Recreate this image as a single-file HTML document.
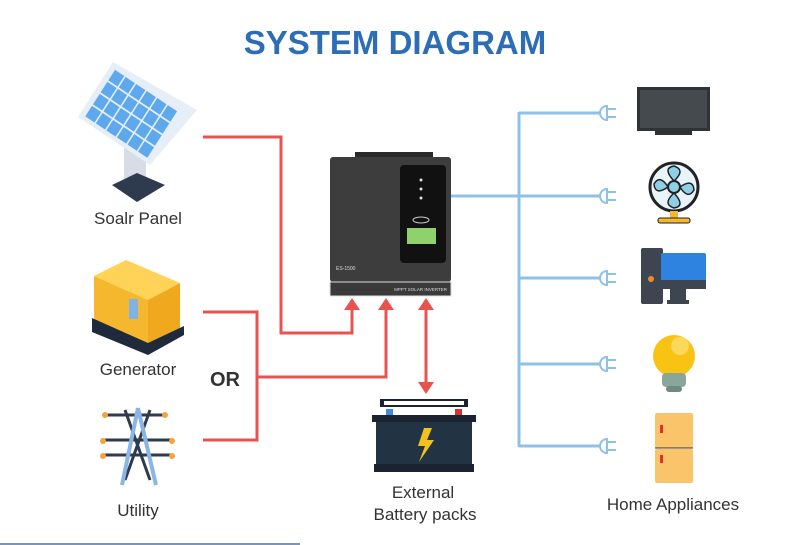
<!DOCTYPE html>
<html><head><meta charset="utf-8"><style>
body{margin:0;background:#fff;}
svg{display:block;}
text{font-family:"Liberation Sans",sans-serif;}
</style></head><body>
<svg width="800" height="545" viewBox="0 0 800 545" xmlns="http://www.w3.org/2000/svg">
<rect width="800" height="545" fill="#fff"/>
<text x="395" y="54" text-anchor="middle" font-size="33" font-weight="bold" fill="#2c6db5">SYSTEM DIAGRAM</text>

<!-- red lines -->
<g stroke="#e8524f" stroke-width="3" fill="none">
<polyline points="203,137 281,137 281,333 352,333 352,308"/>
<polyline points="203,312 257,312 257,440 203,440"/>
<polyline points="257,377 386,377 386,308"/>
<line x1="426" y1="308" x2="426" y2="386"/>
</g>
<g fill="#e8524f">
<polygon points="352,298 344,310 360,310"/>
<polygon points="386,298 378,310 394,310"/>
<polygon points="426,298 418,310 434,310"/>
<polygon points="426,394 418,382 434,382"/>
</g>
<text x="225" y="386" text-anchor="middle" font-size="20" font-weight="bold" fill="#333">OR</text>

<!-- blue lines -->
<g stroke="#8ec0e8" stroke-width="3" fill="none">
<line x1="450" y1="196" x2="519" y2="196"/>
<line x1="519" y1="112" x2="519" y2="447"/>
<line x1="519" y1="113" x2="600" y2="113"/>
<line x1="519" y1="196" x2="600" y2="196"/>
<line x1="519" y1="278" x2="600" y2="278"/>
<line x1="519" y1="364" x2="600" y2="364"/>
<line x1="519" y1="446" x2="600" y2="446"/>
</g>
<g stroke="#8ec0e8" stroke-width="2" fill="none">
<path d="M607,106 A7,7 0 0 0 607,120 Z M607,109 H616 M607,117 H616"/>
<path d="M607,189 A7,7 0 0 0 607,203 Z M607,192 H616 M607,200 H616"/>
<path d="M607,271 A7,7 0 0 0 607,285 Z M607,274 H616 M607,282 H616"/>
<path d="M607,357 A7,7 0 0 0 607,371 Z M607,360 H616 M607,368 H616"/>
<path d="M607,439 A7,7 0 0 0 607,453 Z M607,442 H616 M607,450 H616"/>
</g>

<!-- inverter -->
<rect x="355" y="152" width="78" height="8" fill="#2a2a2a"/>
<rect x="330" y="157" width="121" height="125" rx="3" fill="#3d3d3d"/>
<rect x="400" y="165" width="46" height="98" rx="4" fill="#111"/>
<rect x="407" y="228" width="29" height="16" fill="#8fd16a"/>
<ellipse cx="421" cy="220" rx="8" ry="3" fill="none" stroke="#ccc" stroke-width="1"/>
<circle cx="421" cy="180" r="1.5" fill="#ddd"/><circle cx="421" cy="189" r="1.5" fill="#ddd"/><circle cx="421" cy="198" r="1.5" fill="#ddd"/>
<text x="336" y="270" font-size="5" fill="#ddd">ES-1500</text>
<rect x="330" y="282" width="121" height="14" fill="#3a3a3a" stroke="#ddd" stroke-width="1"/>
<text x="447" y="291" text-anchor="end" font-size="4.5" fill="#ddd">MPPT SOLAR INVERTER</text>

<!-- solar panel -->
<rect x="124" y="140" width="22" height="42" fill="#d8dce6"/>
<polygon points="112,185 137,173 165,185 137,202" fill="#2e3a4d"/>
<polygon points="78,117 113,62 197,110 150,165" fill="#e6eef7"/>
<g transform="matrix(66,44,32,-50,83,117)" fill="#5ea8ee">
<rect x="0.02" y="0.03" width="0.14" height="0.21"/><rect x="0.18" y="0.03" width="0.14" height="0.21"/><rect x="0.34" y="0.03" width="0.14" height="0.21"/><rect x="0.5" y="0.03" width="0.14" height="0.21"/><rect x="0.66" y="0.03" width="0.14" height="0.21"/><rect x="0.82" y="0.03" width="0.14" height="0.21"/>
<rect x="0.02" y="0.27" width="0.14" height="0.21"/><rect x="0.18" y="0.27" width="0.14" height="0.21"/><rect x="0.34" y="0.27" width="0.14" height="0.21"/><rect x="0.5" y="0.27" width="0.14" height="0.21"/><rect x="0.66" y="0.27" width="0.14" height="0.21"/><rect x="0.82" y="0.27" width="0.14" height="0.21"/>
<rect x="0.02" y="0.51" width="0.14" height="0.21"/><rect x="0.18" y="0.51" width="0.14" height="0.21"/><rect x="0.34" y="0.51" width="0.14" height="0.21"/><rect x="0.5" y="0.51" width="0.14" height="0.21"/><rect x="0.66" y="0.51" width="0.14" height="0.21"/><rect x="0.82" y="0.51" width="0.14" height="0.21"/>
<rect x="0.02" y="0.75" width="0.14" height="0.21"/><rect x="0.18" y="0.75" width="0.14" height="0.21"/><rect x="0.34" y="0.75" width="0.14" height="0.21"/><rect x="0.5" y="0.75" width="0.14" height="0.21"/><rect x="0.66" y="0.75" width="0.14" height="0.21"/><rect x="0.82" y="0.75" width="0.14" height="0.21"/>
</g>
<text x="138" y="224" text-anchor="middle" font-size="17" fill="#333">Soalr Panel</text>

<!-- generator -->
<polygon points="94,276 126,260 180,283 148,300" fill="#ffd258"/>
<polygon points="94,276 148,300 148,345 94,322" fill="#f5b72d"/>
<polygon points="148,300 180,283 180,328 148,345" fill="#f0a91e"/>
<polygon points="92,318 148,343 184,326 184,335 148,355 92,332" fill="#1f2a3c"/>
<rect x="129" y="299" width="9" height="20" fill="#7fb3e8"/>
<text x="138" y="375" text-anchor="middle" font-size="17" fill="#333">Generator</text>

<!-- utility -->
<g stroke="#2e3a4d" stroke-width="3" fill="none">
<line x1="104" y1="415" x2="164" y2="415"/>
<line x1="102" y1="440" x2="172" y2="440"/>
<line x1="102" y1="455" x2="172" y2="455"/>
<path d="M125,410 L150,480 M150,410 L125,480"/>
</g>
<path d="M138,408 L122,485 M138,408 L156,485" stroke="#8ab6e6" stroke-width="4" fill="none"/>
<g fill="#f2a43a"><circle cx="105" cy="415" r="3"/><circle cx="165" cy="415" r="3"/><circle cx="103" cy="441" r="3"/><circle cx="172" cy="441" r="3"/><circle cx="103" cy="456" r="3"/><circle cx="172" cy="456" r="3"/></g>
<text x="138" y="516" text-anchor="middle" font-size="17" fill="#333">Utility</text>

<!-- battery -->
<rect x="380" y="399" width="88" height="8" fill="#1b2330"/>
<rect x="384" y="401" width="80" height="4" fill="#fff"/>
<rect x="386" y="409" width="7" height="6" fill="#3a8de0"/>
<rect x="455" y="409" width="7" height="6" fill="#d93030"/>
<rect x="372" y="415" width="104" height="7" fill="#1b2330"/>
<rect x="376" y="422" width="96" height="44" fill="#223344"/>
<rect x="374" y="464" width="100" height="8" fill="#1b2330"/>
<polygon points="424,428 418,446 425,446 419,462 434,440 427,440 432,428" fill="#f3c11e"/>
<text x="423" y="498" text-anchor="middle" font-size="17" fill="#333">External</text>
<text x="425" y="520" text-anchor="middle" font-size="17" fill="#333">Battery packs</text>

<!-- TV -->
<rect x="637" y="87" width="73" height="44" fill="#2f3336"/>
<rect x="640" y="90" width="67" height="38" fill="#444a4e"/>
<rect x="655" y="131" width="37" height="4" fill="#2f3336"/>
<!-- fan -->
<circle cx="674" cy="187" r="24" fill="#e8f4fa" stroke="#222" stroke-width="3"/>
<circle cx="674" cy="187" r="6" fill="#8fd0e6" stroke="#222" stroke-width="2"/>
<path d="M674,181 Q662,168 674,166 Q686,170 674,181 M680,187 Q693,178 694,190 Q688,200 680,187 M674,193 Q686,206 674,208 Q662,204 674,193 M668,187 Q655,196 654,184 Q660,174 668,187" fill="#8fd0e6" stroke="#222" stroke-width="1.5"/>
<rect x="670" y="211" width="8" height="8" fill="#f5b72d"/>
<rect x="658" y="218" width="32" height="5" rx="2" fill="#f5b72d" stroke="#222" stroke-width="1"/>
<!-- computer -->
<rect x="641" y="248" width="22" height="56" rx="2" fill="#3d4650"/>
<circle cx="651" cy="279" r="3" fill="#f08a2a"/>
<rect x="661" y="253" width="45" height="36" rx="2" fill="#2e82e0"/>
<rect x="661" y="280" width="45" height="9" fill="#3d4650"/>
<rect x="670" y="289" width="16" height="12" fill="#3d4650"/>
<rect x="667" y="300" width="22" height="4" fill="#3d4650"/>
<!-- bulb -->
<circle cx="674" cy="356" r="21" fill="#f8c313"/>
<circle cx="680" cy="346" r="9" fill="#fbd75a"/>
<rect x="662" y="373" width="24" height="14" rx="4" fill="#8aa69c"/>
<rect x="666" y="386" width="16" height="6" rx="3" fill="#6e8a80"/>
<!-- fridge -->
<rect x="655" y="413" width="38" height="35" rx="2" fill="#f9c46a"/>
<rect x="655" y="449" width="38" height="34" rx="2" fill="#f9c46a"/>
<line x1="655" y1="448" x2="693" y2="448" stroke="#333" stroke-width="1"/>
<rect x="660" y="425" width="3" height="8" fill="#e03030"/>
<rect x="660" y="455" width="3" height="8" fill="#e03030"/>
<text x="673" y="510" text-anchor="middle" font-size="17" fill="#333">Home Appliances</text>

<line x1="0" y1="544" x2="300" y2="544" stroke="#7a95b8" stroke-width="2"/>
</svg>
</body></html>
